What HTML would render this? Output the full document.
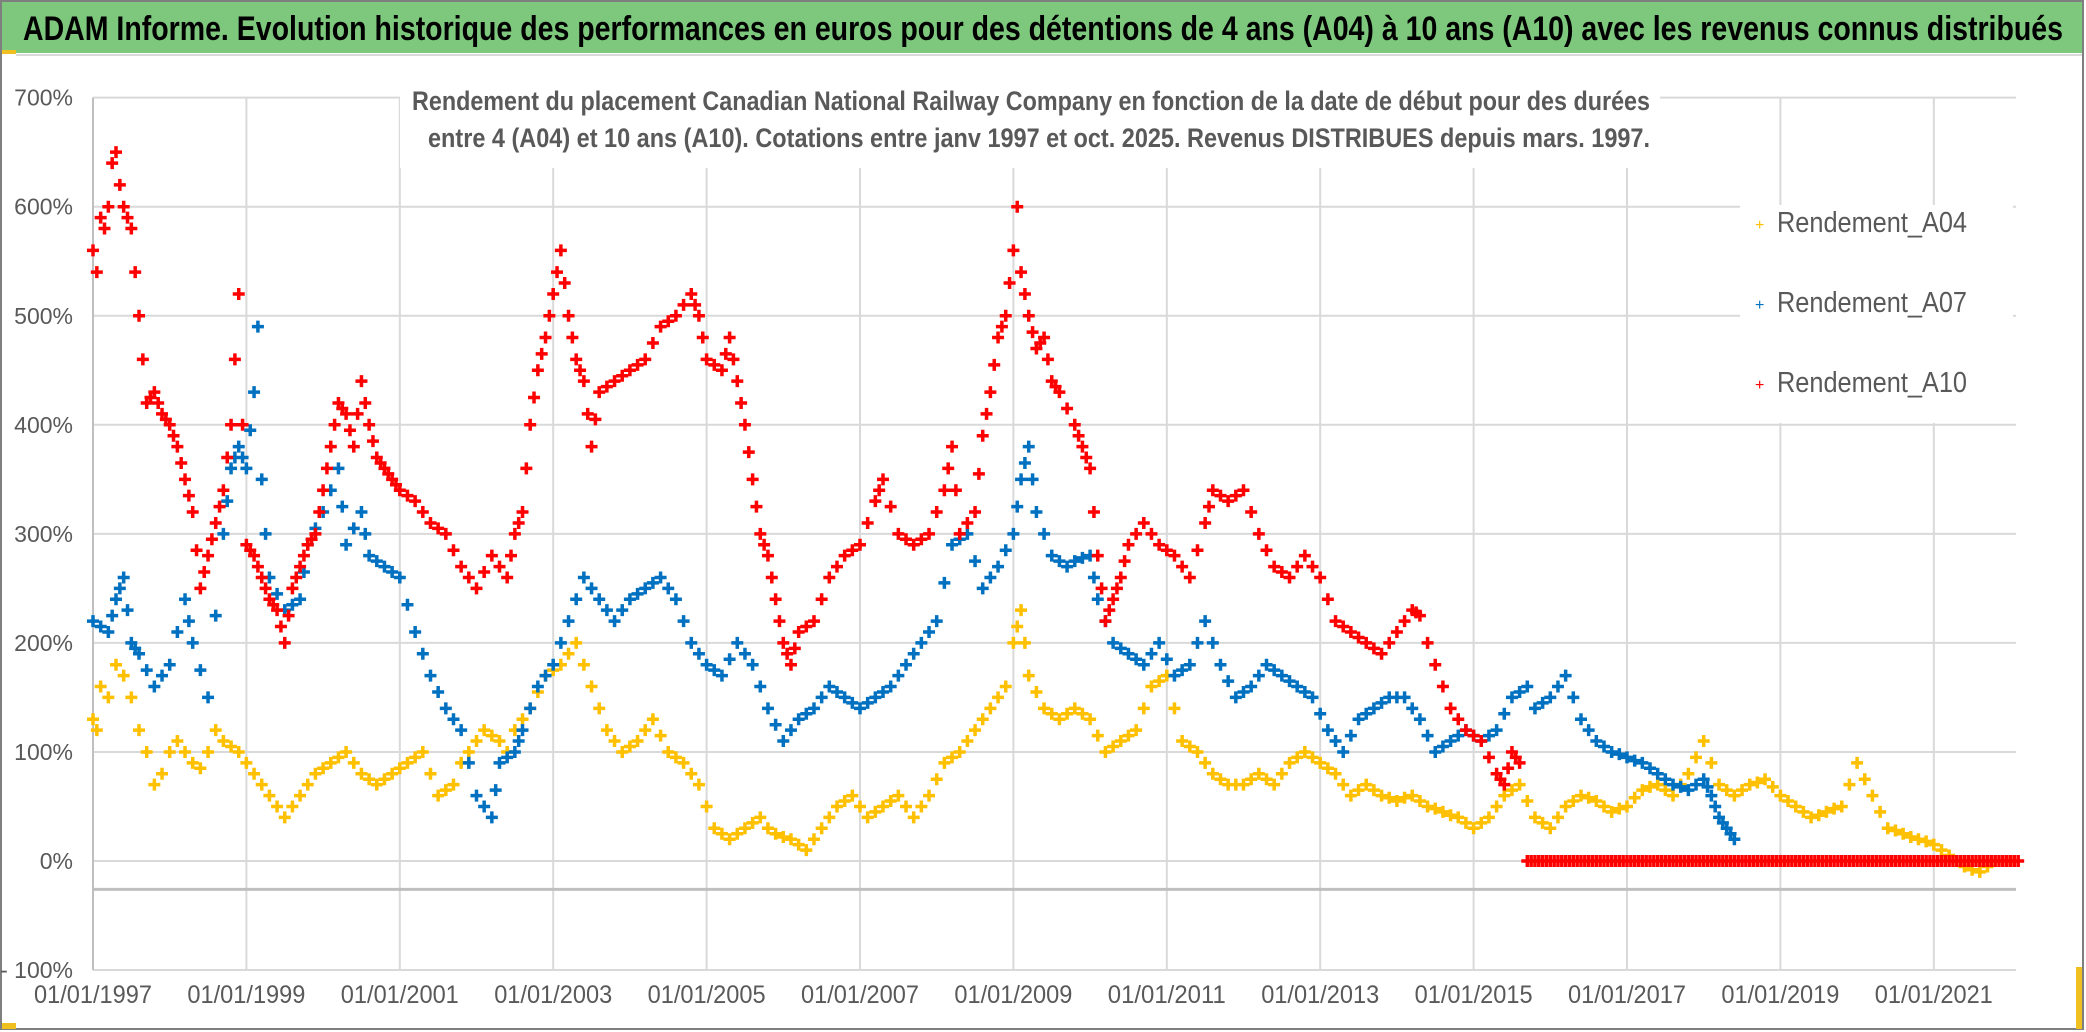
<!DOCTYPE html>
<html><head><meta charset="utf-8"><style>
html,body{margin:0;padding:0;background:#fff;}
body{width:2086px;height:1032px;overflow:hidden;position:relative;font-family:"Liberation Sans Narrow","Liberation Sans",sans-serif;}
</style></head><body>
<svg id="chart" width="2086" height="1032" xmlns="http://www.w3.org/2000/svg" style="position:absolute;left:0;top:0">
<rect x="1" y="1" width="2082" height="1028" fill="#fff" stroke="#7f7f7f" stroke-width="2"/>
<rect x="2" y="2" width="2080" height="51" fill="#7dc87d"/>
<rect x="2" y="50" width="14" height="4" fill="#f0c020"/>
<line x1="16" y1="55" x2="2082" y2="55" stroke="#d9d9d9" stroke-width="2"/>
<text x="1043" y="40" text-anchor="middle" font-size="34" font-weight="bold" fill="#000" textLength="2040" lengthAdjust="spacingAndGlyphs">ADAM Informe. Evolution historique des performances en euros pour des détentions de 4 ans (A04) à 10 ans (A10) avec les revenus connus distribués</text>
<rect x="2076" y="967" width="6" height="62" fill="#f0c020"/>
<rect x="2" y="1023" width="14" height="6" fill="#f0c020"/>
<g id="grid"></g>
<g id="marks"></g>
<g id="labels"></g>
<rect x="400" y="78" width="1260" height="90" fill="#fff"/>
<text x="1031" y="110" text-anchor="middle" font-size="27" font-weight="bold" fill="#595959" textLength="1238" lengthAdjust="spacingAndGlyphs">Rendement du placement Canadian National Railway Company en fonction de la date de début pour des durées</text>
<text x="1039" y="147" text-anchor="middle" font-size="27" font-weight="bold" fill="#595959" textLength="1222" lengthAdjust="spacingAndGlyphs">entre 4 (A04) et 10 ans (A10). Cotations entre janv 1997 et oct. 2025. Revenus DISTRIBUES depuis mars. 1997.</text>
<rect x="1740" y="205" width="273" height="218" fill="#fff"/>
<g font-size="29" fill="#595959">
<g><text x="1755" y="230" font-size="16" fill="#ffc000">+</text><text x="1777" y="232" textLength="190" lengthAdjust="spacingAndGlyphs">Rendement_A04</text></g>
<g><text x="1755" y="310" font-size="16" fill="#0070c0">+</text><text x="1777" y="312" textLength="190" lengthAdjust="spacingAndGlyphs">Rendement_A07</text></g>
<g><text x="1755" y="390" font-size="16" fill="#ff0000">+</text><text x="1777" y="392" textLength="190" lengthAdjust="spacingAndGlyphs">Rendement_A10</text></g>
</g>
</svg>
<script>
const yTicks=[700,600,500,400,300,200,100,0,-100];
const yTickLabels=["700%","600%","500%","400%","300%","200%","100%","0%","- 100%"];
const xTicks=[1997,1999,2001,2003,2005,2007,2009,2011,2013,2015,2017,2019,2021];
const xTickLabels=["01/01/1997","01/01/1999","01/01/2001","01/01/2003","01/01/2005","01/01/2007","01/01/2009","01/01/2011","01/01/2013","01/01/2015","01/01/2017","01/01/2019","01/01/2021"];
const a04Points=[[1997.0,130],[1997.05,120],[1997.1,160],[1997.2,150],[1997.3,180],[1997.4,170],[1997.5,150],[1997.6,120],[1997.7,100],[1997.8,70],[1997.9,80],[1998.0,100],[1998.1,110],[1998.2,100],[1998.3,90],[1998.4,85],[1998.5,100],[1998.6,120],[1998.7,110],[1998.8,105],[1998.9,100],[1999.0,90],[1999.1,80],[1999.2,70],[1999.3,60],[1999.4,50],[1999.5,40],[1999.6,50],[1999.7,60],[1999.8,70],[1999.9,80],[2000.0,85],[2000.1,90],[2000.2,95],[2000.3,100],[2000.4,90],[2000.5,80],[2000.6,75],[2000.7,70],[2000.8,75],[2000.9,80],[2001.0,85],[2001.1,90],[2001.2,95],[2001.3,100],[2001.4,80],[2001.5,60],[2001.6,65],[2001.7,70],[2001.8,90],[2001.9,100],[2002.0,110],[2002.1,120],[2002.2,115],[2002.3,110],[2002.4,100],[2002.5,120],[2002.6,130],[2002.7,140],[2002.8,155],[2002.9,170],[2003.0,175],[2003.1,180],[2003.2,190],[2003.3,200],[2003.4,180],[2003.5,160],[2003.6,140],[2003.7,120],[2003.8,110],[2003.9,100],[2004.0,105],[2004.1,110],[2004.2,120],[2004.3,130],[2004.4,115],[2004.5,100],[2004.6,95],[2004.7,90],[2004.8,80],[2004.9,70],[2005.0,50],[2005.1,30],[2005.2,25],[2005.3,20],[2005.4,25],[2005.5,30],[2005.6,35],[2005.7,40],[2005.8,30],[2005.9,25],[2006.0,22],[2006.1,20],[2006.2,15],[2006.3,10],[2006.4,20],[2006.5,30],[2006.6,40],[2006.7,50],[2006.8,55],[2006.9,60],[2007.0,50],[2007.1,40],[2007.2,45],[2007.3,50],[2007.4,55],[2007.5,60],[2007.6,50],[2007.7,40],[2007.8,50],[2007.9,60],[2008.0,75],[2008.1,90],[2008.2,95],[2008.3,100],[2008.4,110],[2008.5,120],[2008.6,130],[2008.7,140],[2008.8,150],[2008.9,160],[2009.0,200],[2009.05,215],[2009.1,230],[2009.15,200],[2009.2,170],[2009.3,155],[2009.4,140],[2009.5,135],[2009.6,130],[2009.7,135],[2009.8,140],[2009.9,135],[2010.0,130],[2010.1,115],[2010.2,100],[2010.3,105],[2010.4,110],[2010.5,115],[2010.6,120],[2010.7,140],[2010.8,160],[2010.9,165],[2011.0,170],[2011.1,140],[2011.2,110],[2011.3,105],[2011.4,100],[2011.5,90],[2011.6,80],[2011.7,75],[2011.8,70],[2011.9,70],[2012.0,70],[2012.1,75],[2012.2,80],[2012.3,75],[2012.4,70],[2012.5,80],[2012.6,90],[2012.7,95],[2012.8,100],[2012.9,95],[2013.0,90],[2013.1,85],[2013.2,80],[2013.3,70],[2013.4,60],[2013.5,65],[2013.6,70],[2013.7,65],[2013.8,60],[2013.9,58],[2014.0,55],[2014.1,58],[2014.2,60],[2014.3,55],[2014.4,50],[2014.5,48],[2014.6,45],[2014.7,42],[2014.8,40],[2014.9,35],[2015.0,30],[2015.1,35],[2015.2,40],[2015.3,50],[2015.4,60],[2015.5,65],[2015.6,70],[2015.7,55],[2015.8,40],[2015.9,35],[2016.0,30],[2016.1,40],[2016.2,50],[2016.3,55],[2016.4,60],[2016.5,58],[2016.6,55],[2016.7,50],[2016.8,45],[2016.9,48],[2017.0,50],[2017.1,58],[2017.2,65],[2017.3,68],[2017.4,70],[2017.5,65],[2017.6,60],[2017.7,70],[2017.8,80],[2017.9,95],[2018.0,110],[2018.1,90],[2018.2,70],[2018.3,65],[2018.4,60],[2018.5,65],[2018.6,70],[2018.7,72],[2018.8,75],[2018.9,68],[2019.0,60],[2019.1,55],[2019.2,50],[2019.3,45],[2019.4,40],[2019.5,42],[2019.6,45],[2019.7,48],[2019.8,50],[2019.9,70],[2020.0,90],[2020.1,75],[2020.2,60],[2020.3,45],[2020.4,30],[2020.5,28],[2020.6,25],[2020.7,22],[2020.8,20],[2020.9,18],[2021.0,15],[2021.1,10],[2021.2,5],[2021.3,0],[2021.4,-5],[2021.5,-8],[2021.6,-10],[2021.7,-5],[2021.8,0],[2021.9,0],[2022.0,0]];
const a07Points=[[1997.0,220],[1997.1,215],[1997.2,210],[1997.25,225],[1997.3,240],[1997.35,250],[1997.4,260],[1997.45,230],[1997.5,200],[1997.55,195],[1997.6,190],[1997.7,175],[1997.8,160],[1997.9,170],[1998.0,180],[1998.1,210],[1998.2,240],[1998.25,220],[1998.3,200],[1998.4,175],[1998.5,150],[1998.6,225],[1998.7,300],[1998.75,330],[1998.8,360],[1998.85,370],[1998.9,380],[1998.95,370],[1999.0,360],[1999.05,395],[1999.1,430],[1999.15,490],[1999.2,350],[1999.25,300],[1999.3,260],[1999.4,245],[1999.5,230],[1999.6,235],[1999.7,240],[1999.75,265],[1999.8,290],[1999.9,305],[2000.0,320],[2000.1,340],[2000.2,360],[2000.25,325],[2000.3,290],[2000.4,305],[2000.5,320],[2000.55,300],[2000.6,280],[2000.7,275],[2000.8,270],[2000.9,265],[2001.0,260],[2001.1,235],[2001.2,210],[2001.3,190],[2001.4,170],[2001.5,155],[2001.6,140],[2001.7,130],[2001.8,120],[2001.9,90],[2002.0,60],[2002.1,50],[2002.2,40],[2002.25,65],[2002.3,90],[2002.4,95],[2002.5,100],[2002.55,110],[2002.6,120],[2002.7,140],[2002.8,160],[2002.9,170],[2003.0,180],[2003.1,200],[2003.2,220],[2003.3,240],[2003.4,260],[2003.5,250],[2003.6,240],[2003.7,230],[2003.8,220],[2003.9,230],[2004.0,240],[2004.1,245],[2004.2,250],[2004.3,255],[2004.4,260],[2004.5,250],[2004.6,240],[2004.7,220],[2004.8,200],[2004.9,190],[2005.0,180],[2005.1,175],[2005.2,170],[2005.3,185],[2005.4,200],[2005.5,190],[2005.6,180],[2005.7,160],[2005.8,140],[2005.9,125],[2006.0,110],[2006.1,120],[2006.2,130],[2006.3,135],[2006.4,140],[2006.5,150],[2006.6,160],[2006.7,155],[2006.8,150],[2006.9,145],[2007.0,140],[2007.1,145],[2007.2,150],[2007.3,155],[2007.4,160],[2007.5,170],[2007.6,180],[2007.7,190],[2007.8,200],[2007.9,210],[2008.0,220],[2008.1,255],[2008.2,290],[2008.3,295],[2008.4,300],[2008.5,275],[2008.6,250],[2008.7,260],[2008.8,270],[2008.9,285],[2009.0,300],[2009.05,325],[2009.1,350],[2009.15,365],[2009.2,380],[2009.25,350],[2009.3,320],[2009.4,300],[2009.5,280],[2009.6,275],[2009.7,270],[2009.8,275],[2009.9,278],[2010.0,280],[2010.05,260],[2010.1,240],[2010.2,220],[2010.3,200],[2010.4,195],[2010.5,190],[2010.6,185],[2010.7,180],[2010.8,190],[2010.9,200],[2011.0,185],[2011.1,170],[2011.2,175],[2011.3,180],[2011.4,200],[2011.5,220],[2011.6,200],[2011.7,180],[2011.8,165],[2011.9,150],[2012.0,155],[2012.1,160],[2012.2,170],[2012.3,180],[2012.4,175],[2012.5,170],[2012.6,165],[2012.7,160],[2012.8,155],[2012.9,150],[2013.0,135],[2013.1,120],[2013.2,110],[2013.3,100],[2013.4,115],[2013.5,130],[2013.6,135],[2013.7,140],[2013.8,145],[2013.9,150],[2014.0,150],[2014.1,150],[2014.2,140],[2014.3,130],[2014.4,115],[2014.5,100],[2014.6,105],[2014.7,110],[2014.8,115],[2014.9,120],[2015.0,115],[2015.1,110],[2015.2,115],[2015.3,120],[2015.4,135],[2015.5,150],[2015.6,155],[2015.7,160],[2015.8,140],[2015.9,145],[2016.0,150],[2016.1,160],[2016.2,170],[2016.3,150],[2016.4,130],[2016.5,120],[2016.6,110],[2016.7,105],[2016.8,100],[2016.9,98],[2017.0,95],[2017.1,92],[2017.2,90],[2017.3,85],[2017.4,80],[2017.5,75],[2017.6,70],[2017.7,68],[2017.8,65],[2017.9,70],[2018.0,75],[2018.05,68],[2018.1,60],[2018.15,50],[2018.2,40],[2018.25,35],[2018.3,30],[2018.35,25],[2018.4,20]];
const a10Points=[[1997.0,560],[1997.05,540],[1997.1,590],[1997.15,580],[1997.2,600],[1997.25,640],[1997.3,650],[1997.35,620],[1997.4,600],[1997.45,590],[1997.5,580],[1997.55,540],[1997.6,500],[1997.65,460],[1997.7,420],[1997.75,425],[1997.8,430],[1997.85,420],[1997.9,410],[1997.95,405],[1998.0,400],[1998.05,390],[1998.1,380],[1998.15,365],[1998.2,350],[1998.25,335],[1998.3,320],[1998.35,285],[1998.4,250],[1998.45,265],[1998.5,280],[1998.55,295],[1998.6,310],[1998.65,325],[1998.7,340],[1998.75,370],[1998.8,400],[1998.85,460],[1998.9,520],[1998.95,400],[1999.0,290],[1999.05,285],[1999.1,280],[1999.15,270],[1999.2,260],[1999.25,250],[1999.3,240],[1999.35,235],[1999.4,230],[1999.45,215],[1999.5,200],[1999.55,225],[1999.6,250],[1999.65,260],[1999.7,270],[1999.75,280],[1999.8,290],[1999.85,295],[1999.9,300],[1999.95,320],[2000.0,340],[2000.05,360],[2000.1,380],[2000.15,400],[2000.2,420],[2000.25,415],[2000.3,410],[2000.35,395],[2000.4,380],[2000.45,410],[2000.5,440],[2000.55,420],[2000.6,400],[2000.65,385],[2000.7,370],[2000.75,365],[2000.8,360],[2000.85,355],[2000.9,350],[2000.95,345],[2001.0,340],[2001.1,335],[2001.2,330],[2001.3,320],[2001.4,310],[2001.5,305],[2001.6,300],[2001.7,285],[2001.8,270],[2001.9,260],[2002.0,250],[2002.1,265],[2002.2,280],[2002.3,270],[2002.4,260],[2002.45,280],[2002.5,300],[2002.55,310],[2002.6,320],[2002.65,360],[2002.7,400],[2002.75,425],[2002.8,450],[2002.85,465],[2002.9,480],[2002.95,500],[2003.0,520],[2003.05,540],[2003.1,560],[2003.15,530],[2003.2,500],[2003.25,480],[2003.3,460],[2003.35,450],[2003.4,440],[2003.45,410],[2003.5,380],[2003.55,405],[2003.6,430],[2003.7,435],[2003.8,440],[2003.9,445],[2004.0,450],[2004.1,455],[2004.2,460],[2004.3,475],[2004.4,490],[2004.5,495],[2004.6,500],[2004.7,510],[2004.8,520],[2004.85,510],[2004.9,500],[2004.95,480],[2005.0,460],[2005.1,455],[2005.2,450],[2005.25,465],[2005.3,480],[2005.35,460],[2005.4,440],[2005.45,420],[2005.5,400],[2005.55,375],[2005.6,350],[2005.65,325],[2005.7,300],[2005.75,290],[2005.8,280],[2005.85,260],[2005.9,240],[2005.95,220],[2006.0,200],[2006.05,190],[2006.1,180],[2006.15,195],[2006.2,210],[2006.3,215],[2006.4,220],[2006.5,240],[2006.6,260],[2006.7,270],[2006.8,280],[2006.9,285],[2007.0,290],[2007.1,310],[2007.2,330],[2007.25,340],[2007.3,350],[2007.4,325],[2007.5,300],[2007.6,295],[2007.7,290],[2007.8,295],[2007.9,300],[2008.0,320],[2008.1,340],[2008.15,360],[2008.2,380],[2008.25,340],[2008.3,300],[2008.4,310],[2008.5,320],[2008.55,355],[2008.6,390],[2008.65,410],[2008.7,430],[2008.75,455],[2008.8,480],[2008.85,490],[2008.9,500],[2008.95,530],[2009.0,560],[2009.05,600],[2009.1,540],[2009.15,520],[2009.2,500],[2009.25,485],[2009.3,470],[2009.35,475],[2009.4,480],[2009.45,460],[2009.5,440],[2009.55,435],[2009.6,430],[2009.7,415],[2009.8,400],[2009.85,390],[2009.9,380],[2009.95,370],[2010.0,360],[2010.05,320],[2010.1,280],[2010.15,250],[2010.2,220],[2010.25,230],[2010.3,240],[2010.35,250],[2010.4,260],[2010.45,275],[2010.5,290],[2010.6,300],[2010.7,310],[2010.8,300],[2010.9,290],[2011.0,285],[2011.1,280],[2011.2,270],[2011.3,260],[2011.4,285],[2011.5,310],[2011.55,325],[2011.6,340],[2011.7,335],[2011.8,330],[2011.9,335],[2012.0,340],[2012.1,320],[2012.2,300],[2012.3,285],[2012.4,270],[2012.5,265],[2012.6,260],[2012.7,270],[2012.8,280],[2012.9,270],[2013.0,260],[2013.1,240],[2013.2,220],[2013.3,215],[2013.4,210],[2013.5,205],[2013.6,200],[2013.7,195],[2013.8,190],[2013.9,200],[2014.0,210],[2014.1,220],[2014.2,230],[2014.25,228],[2014.3,225],[2014.4,200],[2014.5,180],[2014.6,160],[2014.7,140],[2014.8,130],[2014.9,120],[2015.0,115],[2015.1,110],[2015.2,95],[2015.3,80],[2015.35,75],[2015.4,70],[2015.45,85],[2015.5,100],[2015.55,95],[2015.6,90],[2015.7,0],[2015.75,0],[2015.8,0],[2015.85,0],[2015.9,0],[2015.95,0],[2016.0,0],[2016.05,0],[2016.1,0],[2016.15,0],[2016.2,0],[2016.25,0],[2016.3,0],[2016.35,0],[2016.4,0],[2016.45,0],[2016.5,0],[2016.55,0],[2016.6,0],[2016.65,0],[2016.7,0],[2016.75,0],[2016.8,0],[2016.85,0],[2016.9,0],[2016.95,0],[2017.0,0],[2017.05,0],[2017.1,0],[2017.15,0],[2017.2,0],[2017.25,0],[2017.3,0],[2017.35,0],[2017.4,0],[2017.45,0],[2017.5,0],[2017.55,0],[2017.6,0],[2017.65,0],[2017.7,0],[2017.75,0],[2017.8,0],[2017.85,0],[2017.9,0],[2017.95,0],[2018.0,0],[2018.05,0],[2018.1,0],[2018.15,0],[2018.2,0],[2018.25,0],[2018.3,0],[2018.35,0],[2018.4,0],[2018.45,0],[2018.5,0],[2018.55,0],[2018.6,0],[2018.65,0],[2018.7,0],[2018.75,0],[2018.8,0],[2018.85,0],[2018.9,0],[2018.95,0],[2019.0,0],[2019.05,0],[2019.1,0],[2019.15,0],[2019.2,0],[2019.25,0],[2019.3,0],[2019.35,0],[2019.4,0],[2019.45,0],[2019.5,0],[2019.55,0],[2019.6,0],[2019.65,0],[2019.7,0],[2019.75,0],[2019.8,0],[2019.85,0],[2019.9,0],[2019.95,0],[2020.0,0],[2020.05,0],[2020.1,0],[2020.15,0],[2020.2,0],[2020.25,0],[2020.3,0],[2020.35,0],[2020.4,0],[2020.45,0],[2020.5,0],[2020.55,0],[2020.6,0],[2020.65,0],[2020.7,0],[2020.75,0],[2020.8,0],[2020.85,0],[2020.9,0],[2020.95,0],[2021.0,0],[2021.05,0],[2021.1,0],[2021.15,0],[2021.2,0],[2021.25,0],[2021.3,0],[2021.35,0],[2021.4,0],[2021.45,0],[2021.5,0],[2021.55,0],[2021.6,0],[2021.65,0],[2021.7,0],[2021.75,0],[2021.8,0],[2021.85,0],[2021.9,0],[2021.95,0],[2022.0,0],[2022.05,0],[2022.1,0]];

const NS="http://www.w3.org/2000/svg";
const X0=93, YR=76.7, Y0=861, PP=1.0905, XRIGHT=2016;
function xs(t){return X0+(t-1997)*YR;}
function ys(v){return Y0-v*PP;}
function mk(tag,attrs,parent){const e=document.createElementNS(NS,tag);for(const k in attrs)e.setAttribute(k,attrs[k]);parent.appendChild(e);return e;}
const grid=document.getElementById('grid'),marks=document.getElementById('marks'),labels=document.getElementById('labels');
yTicks.forEach((v,i)=>{
  const l=mk('line',{x1:X0,x2:XRIGHT,y1:ys(v),y2:ys(v),stroke:'#d9d9d9','stroke-width':2},grid);
  
  
  const t=mk('text',{x:X0-20,y:ys(v)+8,'text-anchor':'end','font-size':23,fill:'#595959'},labels);
  t.textContent=yTickLabels[i];
  
  
});
xTicks.forEach((yr,i)=>{
  const l=mk('line',{x1:xs(yr),x2:xs(yr),y1:ys(700),y2:ys(-100),stroke:'#d9d9d9','stroke-width':2},grid);
  
  
  const t=mk('text',{x:xs(yr),y:1003,'text-anchor':'middle','font-size':25,fill:'#595959',textLength:118,lengthAdjust:'spacingAndGlyphs'},labels);
  t.textContent=xTickLabels[i];
  
  
});
const ax=mk('line',{x1:X0,x2:XRIGHT,y1:ys(-26),y2:ys(-26),stroke:'#bfbfbf','stroke-width':3},grid);


const yax=mk('line',{x1:X0,x2:X0,y1:ys(700),y2:ys(-100),stroke:'#bfbfbf','stroke-width':2},grid);


function series(pts,color,name){
  const g=mk('g',{stroke:color,'stroke-width':3.5},marks);
  
  
  let d='';
  pts.forEach(p=>{const x=xs(p[0]),y=ys(p[1]);d+=`M${x-6},${y}h12M${x},${y-6}v12`;});
  const path=mk('path',{d:d,fill:'none'},g);
  
  
}
series(a04Points,'#ffc000','series-a04');
series(a07Points,'#0070c0','series-a07');
series(a10Points,'#ff0000','series-a10');
</script>
</body></html>
